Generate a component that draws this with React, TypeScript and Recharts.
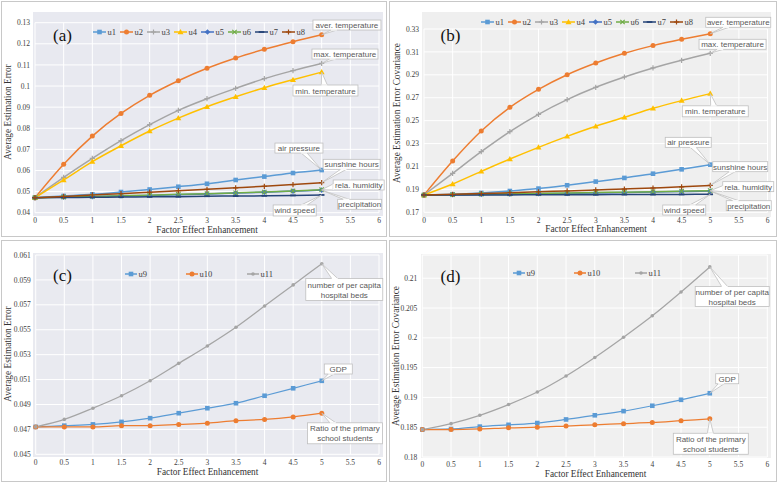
import React from "react";
import { LineChart, Line, XAxis, YAxis, CartesianGrid, LabelList } from "recharts";

const FACTOR = [0, 0.5, 1, 1.5, 2, 2.5, 3, 3.5, 4, 4.5, 5];
const X_TICKS = [0, 0.5, 1, 1.5, 2, 2.5, 3, 3.5, 4, 4.5, 5, 5.5, 6];

// (a) average estimation error, meteorological factors
const A_U1 = [0.0471, 0.0479, 0.0487, 0.0498, 0.051, 0.0523, 0.0537, 0.0555, 0.0571, 0.0588, 0.0602];
const A_U2 = [0.0471, 0.063, 0.0763, 0.087, 0.0956, 0.1025, 0.1084, 0.1133, 0.1174, 0.121, 0.1243];
const A_U3 = [0.0471, 0.0567, 0.0657, 0.0741, 0.0817, 0.0885, 0.094, 0.0989, 0.1035, 0.1073, 0.1107];
const A_U4 = [0.0471, 0.0555, 0.0642, 0.0717, 0.0787, 0.0848, 0.0902, 0.0949, 0.0992, 0.103, 0.1066];
const A_U5 = [0.0471, 0.0473, 0.0476, 0.0479, 0.0482, 0.0485, 0.0489, 0.0493, 0.0497, 0.0502, 0.0507];
const A_U6 = [0.0471, 0.0474, 0.0477, 0.048, 0.0483, 0.0487, 0.049, 0.0494, 0.0498, 0.0503, 0.0509];
const A_U7 = [0.0471, 0.0472, 0.0473, 0.0474, 0.0475, 0.0476, 0.0478, 0.0479, 0.048, 0.0482, 0.0484];
const A_U8 = [0.0471, 0.0477, 0.0484, 0.049, 0.0497, 0.0504, 0.0511, 0.0518, 0.0525, 0.0533, 0.0542];
const A_TICKS = [0.04, 0.05, 0.06, 0.07, 0.08, 0.09, 0.1, 0.11, 0.12, 0.13];

// (b) average estimation error covariance, meteorological factors
const B_U1 = [0.1851, 0.1857, 0.1869, 0.1886, 0.1907, 0.1936, 0.1968, 0.2, 0.2037, 0.2075, 0.2116];
const B_U2 = [0.1851, 0.2148, 0.241, 0.2616, 0.2773, 0.2901, 0.3003, 0.3088, 0.3155, 0.321, 0.3259];
const B_U3 = [0.1851, 0.204, 0.2229, 0.2404, 0.2555, 0.2683, 0.2791, 0.2881, 0.296, 0.3027, 0.3088];
const B_U4 = [0.1851, 0.1947, 0.2057, 0.2165, 0.2267, 0.2363, 0.2451, 0.2529, 0.2608, 0.2675, 0.2736];
const B_U5 = [0.1851, 0.1853, 0.1856, 0.1859, 0.1862, 0.1865, 0.1869, 0.1873, 0.1877, 0.1881, 0.1886];
const B_U6 = [0.1851, 0.1854, 0.1858, 0.1861, 0.1864, 0.1868, 0.1872, 0.1876, 0.188, 0.1884, 0.1889];
const B_U7 = [0.1851, 0.1851, 0.1852, 0.1852, 0.1853, 0.1853, 0.1854, 0.1855, 0.1855, 0.1856, 0.1857];
const B_U8 = [0.1851, 0.1857, 0.1864, 0.1871, 0.1879, 0.1887, 0.1895, 0.1903, 0.1912, 0.1922, 0.1935];
const B_TICKS = [0.17, 0.19, 0.21, 0.23, 0.25, 0.27, 0.29, 0.31, 0.33];

// (c) average estimation error, socio-economic factors
const C_U9 = [0.0472, 0.0473, 0.0474, 0.0476, 0.0479, 0.0483, 0.0487, 0.0491, 0.0497, 0.0503, 0.0509];
const C_U10 = [0.0472, 0.0472, 0.0472, 0.0473, 0.0473, 0.0474, 0.0475, 0.0477, 0.0478, 0.048, 0.0483];
const C_U11 = [0.0472, 0.0478, 0.0487, 0.0497, 0.0509, 0.0523, 0.0537, 0.0552, 0.0569, 0.0586, 0.0603];
const C_TICKS = [0.045, 0.047, 0.049, 0.051, 0.053, 0.055, 0.057, 0.059, 0.061];

// (d) average estimation error covariance, socio-economic factors
const D_U9 = [0.1846, 0.1847, 0.1851, 0.1854, 0.1857, 0.1863, 0.187, 0.1877, 0.1886, 0.1896, 0.1907];
const D_U10 = [0.1846, 0.1846, 0.1847, 0.1849, 0.185, 0.1852, 0.1854, 0.1856, 0.1858, 0.1861, 0.1864];
const D_U11 = [0.1846, 0.1856, 0.187, 0.1888, 0.1909, 0.1936, 0.1967, 0.2001, 0.2037, 0.2077, 0.2119];
const D_TICKS = [0.18, 0.185, 0.19, 0.195, 0.2, 0.205, 0.21];

const NAMES: Record<string, string[]> = {
  u1: ["air pressure"],
  u2: ["aver. temperature"],
  u3: ["max. temperature"],
  u4: ["min. temperature"],
  u5: ["precipitation"],
  u6: ["rela. humidity"],
  u7: ["wind speed"],
  u8: ["sunshine hours"],
  u9: ["GDP"],
  u10: ["Ratio of the primary", "school students"],
  u11: ["number of per capita", "hospital beds"],
};

const SERIF = '"Liberation Serif", "Times New Roman", serif';
const SANS = '"Liberation Sans", Arial, sans-serif';

type Shape = "square" | "circle" | "triangle" | "diamond" | "plus" | "cross" | "dash" | "dot";
type Series = { key: string; color: string; shape: Shape };
type Callout = { dx: number; dy: number; w: number; h: number };

const METEO: Series[] = [
  { key: "u1", color: "#5B9BD5", shape: "square" },
  { key: "u2", color: "#ED7D31", shape: "circle" },
  { key: "u3", color: "#A5A5A5", shape: "plus" },
  { key: "u4", color: "#FFC000", shape: "triangle" },
  { key: "u5", color: "#4472C4", shape: "diamond" },
  { key: "u6", color: "#70AD47", shape: "cross" },
  { key: "u7", color: "#264478", shape: "dash" },
  { key: "u8", color: "#9E480E", shape: "plus" },
];
const SOCIO: Series[] = [
  { key: "u9", color: "#5B9BD5", shape: "square" },
  { key: "u10", color: "#ED7D31", shape: "circle" },
  { key: "u11", color: "#A5A5A5", shape: "dot" },
];

const rows = (cols: Record<string, number[]>) =>
  FACTOR.map((f, i) => {
    const r: Record<string, number> = { f };
    Object.keys(cols).forEach(k => (r[k] = cols[k][i]));
    return r;
  });

function Marker({ shape, x, y, color }: { shape: Shape; x: number; y: number; color: string }) {
  switch (shape) {
    case "square":
      return <rect x={x - 2.3} y={y - 2.3} width={4.6} height={4.6} fill={color} />;
    case "circle":
      return <circle cx={x} cy={y} r={2.5} fill={color} />;
    case "dot":
      return <circle cx={x} cy={y} r={1.8} fill={color} />;
    case "triangle":
      return <path d={`M${x} ${y - 3}L${x + 3} ${y + 2.2}L${x - 3} ${y + 2.2}Z`} fill={color} />;
    case "diamond":
      return <path d={`M${x} ${y - 2.8}L${x + 2.8} ${y}L${x} ${y + 2.8}L${x - 2.8} ${y}Z`} fill={color} />;
    case "plus":
      return <path d={`M${x - 2.6} ${y}H${x + 2.6}M${x} ${y - 2.6}V${y + 2.6}`} stroke={color} strokeWidth={1.2} />;
    case "cross":
      return (
        <path d={`M${x - 2.2} ${y - 2.2}L${x + 2.2} ${y + 2.2}M${x + 2.2} ${y - 2.2}L${x - 2.2} ${y + 2.2}`}
          stroke={color} strokeWidth={1.2} />
      );
    default:
      return <path d={`M${x - 2.8} ${y}H${x + 2.8}`} stroke={color} strokeWidth={1.8} />;
  }
}

const clamp = (v: number, lo: number, hi: number) => Math.max(lo, Math.min(hi, v));

// Excel-style data callout: white box with a wedge pointing at the last point
function CalloutBox({ tx, ty, c, lines }: { tx: number; ty: number; c: Callout; lines: string[] }) {
  const cx = tx + c.dx, cy = ty + c.dy, hw = c.w / 2, hh = c.h / 2;
  const ddx = tx - cx, ddy = ty - cy;
  let b1: number[], b2: number[];
  if (Math.abs(ddx) / hw > Math.abs(ddy) / hh) {
    const ex = cx + Math.sign(ddx) * hw;
    const ey = clamp(cy + (ddy * hw) / Math.abs(ddx), cy - hh + 3, cy + hh - 3);
    b1 = [ex, ey - 3]; b2 = [ex, ey + 3];
  } else {
    const ey = cy + Math.sign(ddy) * hh;
    const ex = clamp(cx + (ddx * hh) / Math.abs(ddy), cx - hw + 3, cx + hw - 3);
    b1 = [ex - 3, ey]; b2 = [ex + 3, ey];
  }
  const stroke = "#bfbfbf";
  return (
    <g>
      <path d={`M${b1[0]} ${b1[1]}L${tx} ${ty}L${b2[0]} ${b2[1]}Z`} fill="#fff" stroke={stroke} strokeWidth={0.8} />
      <rect x={cx - hw} y={cy - hh} width={c.w} height={c.h} fill="#fff" stroke={stroke} strokeWidth={0.8} />
      <line x1={b1[0]} y1={b1[1]} x2={b2[0]} y2={b2[1]} stroke="#fff" strokeWidth={1.2} />
      <text x={cx} textAnchor="middle" fontFamily={SANS} fontSize={8} fill="#595959">
        {lines.map((l, i) => (
          <tspan key={i} x={cx} y={cy + 3 - ((lines.length - 1) * 10) / 2 + i * 10}>{l}</tspan>
        ))}
      </text>
    </g>
  );
}

type Rect = { x: number; y: number; w: number; h: number };
type PanelCfg = {
  tag: string;
  data: Record<string, number>[];
  series: Series[];
  lineWidth: number;
  domain: [number, number];
  ticks: number[];
  box: Rect;
  plot: { x0: number; x1: number; y0: number; y1: number };
  frame: Rect;
  bg: Rect;
  bgColor: string;
  legend: { x: number; y: number; pitch: number; sample: number };
  tagPos: [number, number];
  yTitle: string;
  yTitlePos: [number, number];
  xTitlePos: [number, number];
  callouts: Record<string, Callout>;
};

const PANELS: PanelCfg[] = [
  {
    tag: "(a)",
    data: rows({ u1: A_U1, u2: A_U2, u3: A_U3, u4: A_U4, u5: A_U5, u6: A_U6, u7: A_U7, u8: A_U8 }),
    series: METEO, lineWidth: 1.5, domain: [0.04, 0.13], ticks: A_TICKS,
    box: { x: 0, y: 0, w: 389, h: 239 },
    plot: { x0: 35, x1: 379, y0: 22.7, y1: 212.7 },
    frame: { x: 1, y: 1, w: 386, h: 236 },
    bg: { x: 33, y: 12, w: 350, h: 204 }, bgColor: "#e8e9f0",
    legend: { x: 93, y: 32.3, pitch: 27, sample: 13 },
    tagPos: [62.5, 35],
    yTitle: "Average Estimation Error", yTitlePos: [8.5, 112], xTitlePos: [207, 230.5],
    callouts: {
      u2: { dx: 25.3, dy: -9.7, w: 68, h: 10 },
      u3: { dx: 23.3, dy: -9.4, w: 66, h: 10 },
      u4: { dx: 3.8, dy: 18.4, w: 65, h: 11 },
      u1: { dx: -22.7, dy: -22, w: 48, h: 10 },
      u8: { dx: 30, dy: -18.4, w: 57, h: 10 },
      u6: { dx: 37, dy: -4.7, w: 51, h: 10 },
      u5: { dx: 38, dy: 14.2, w: 44, h: 10 },
      u7: { dx: -27, dy: 15.5, w: 43, h: 11 },
    },
  },
  {
    tag: "(b)",
    data: rows({ u1: B_U1, u2: B_U2, u3: B_U3, u4: B_U4, u5: B_U5, u6: B_U6, u7: B_U7, u8: B_U8 }),
    series: METEO, lineWidth: 1.5, domain: [0.17, 0.33], ticks: B_TICKS,
    box: { x: 389, y: 0, w: 389, h: 239 },
    plot: { x0: 424, x1: 767.5, y0: 29, y1: 212.3 },
    frame: { x: 389, y: 1, w: 388, h: 236 },
    bg: { x: 422, y: 12, w: 349, h: 205 }, bgColor: "#efefef",
    legend: { x: 481, y: 22.3, pitch: 27, sample: 13 },
    tagPos: [450.5, 34.5],
    yTitle: "Average Estimation Error Covariance", yTitlePos: [398, 112.5], xTitlePos: [596, 230],
    callouts: {
      u2: { dx: 28, dy: -11.4, w: 65, h: 10 },
      u3: { dx: 22.3, dy: -9, w: 67, h: 10 },
      u4: { dx: 5, dy: 17.7, w: 66, h: 11 },
      u1: { dx: -22, dy: -22.3, w: 46, h: 10 },
      u8: { dx: 30, dy: -18.7, w: 55, h: 10 },
      u6: { dx: 38, dy: -4, w: 51, h: 10 },
      u5: { dx: 38.5, dy: 14.7, w: 45, h: 10 },
      u7: { dx: -26, dy: 15.7, w: 43, h: 10 },
    },
  },
  {
    tag: "(c)",
    data: rows({ u9: C_U9, u10: C_U10, u11: C_U11 }),
    series: SOCIO, lineWidth: 1.25, domain: [0.045, 0.061], ticks: C_TICKS,
    box: { x: 0, y: 240, w: 389, h: 243 },
    plot: { x0: 35.7, x1: 379, y0: 255, y1: 454.3 },
    frame: { x: 1, y: 240, w: 386, h: 242 },
    bg: { x: 33, y: 253, w: 350, h: 204 }, bgColor: "#e9eaf0",
    legend: { x: 125, y: 273.7, pitch: 61, sample: 12 },
    tagPos: [62.5, 275],
    yTitle: "Average Estimation Error", yTitlePos: [8.5, 354], xTitlePos: [207.5, 473.3],
    callouts: {
      u11: { dx: 22.5, dy: 25.8, w: 77, h: 22 },
      u9: { dx: 16.5, dy: -11.8, w: 28, h: 10 },
      u10: { dx: 23.2, dy: 20.1, w: 75, h: 21 },
    },
  },
  {
    tag: "(d)",
    data: rows({ u9: D_U9, u10: D_U10, u11: D_U11 }),
    series: SOCIO, lineWidth: 1.25, domain: [0.18, 0.2139], ticks: D_TICKS,
    box: { x: 389, y: 240, w: 389, h: 243 },
    plot: { x0: 422.3, x1: 767.3, y0: 255, y1: 457 },
    frame: { x: 389, y: 240, w: 388, h: 242 },
    bg: { x: 421, y: 254, w: 350, h: 204 }, bgColor: "#f0f0f0",
    legend: { x: 513, y: 273.3, pitch: 61, sample: 12 },
    tagPos: [450.5, 276],
    yTitle: "Average Estimation Error Covariance", yTitlePos: [396.5, 356], xTitlePos: [595.5, 475],
    callouts: {
      u11: { dx: 22.4, dy: 29.6, w: 74, h: 20 },
      u9: { dx: 17.4, dy: -14.5, w: 23, h: 10 },
      u10: { dx: 1, dy: 24.9, w: 75, h: 21 },
    },
  },
];

const TICK = { fontSize: 7.5, fill: "#404040", fontFamily: SERIF };
const abs = (r: Rect): React.CSSProperties => ({ position: "absolute", left: r.x, top: r.y, width: r.w, height: r.h });
const centered = (x: number, y: number, extra: React.CSSProperties = {}): React.CSSProperties => ({
  position: "absolute", left: x, top: y, transform: "translate(-50%, -50%)", whiteSpace: "nowrap", lineHeight: 1, ...extra,
});

function Panel({ cfg }: { cfg: PanelCfg }) {
  const { box, plot } = cfg;
  const last = FACTOR.length - 1;
  return (
    <>
      <div style={{ ...abs(cfg.frame), border: "1.5px solid #c8c8c8", boxSizing: "border-box" }} />
      <div style={{ ...abs(cfg.bg), background: cfg.bgColor }} />
      <div style={{ position: "absolute", left: box.x, top: box.y }}>
        <LineChart
          width={box.w}
          height={box.h}
          data={cfg.data}
          margin={{ top: plot.y0 - box.y, right: box.x + box.w - plot.x1, bottom: 0, left: 0 }}
        >
          <CartesianGrid stroke="#ffffff" strokeWidth={1} />
          <XAxis type="number" dataKey="f" domain={[0, 6]} ticks={X_TICKS} interval={0}
            height={box.y + box.h - plot.y1} axisLine={false} tickLine={false} tickSize={0} tickMargin={5} tick={TICK} />
          <YAxis type="number" domain={cfg.domain} ticks={cfg.ticks} interval={0}
            width={plot.x0 - box.x} axisLine={false} tickLine={false} tickSize={0} tickMargin={5} tick={TICK} />
          {cfg.series.map(s => {
            const c = cfg.callouts[s.key];
            const lastVal = cfg.data[last][s.key];
            return (
              <Line key={s.key} dataKey={s.key} type="monotone" stroke={s.color} strokeWidth={cfg.lineWidth}
                isAnimationActive={false} activeDot={false}
                dot={(p: any) => (
                  <g key={`${s.key}-${p.index}`}>
                    <Marker shape={s.shape} x={p.cx} y={p.cy} color={s.color} />
                  </g>
                )}
              >
                {c && (
                  <LabelList dataKey={s.key} content={(p: any) => {
                    const isLast = p.index !== undefined ? p.index === last : p.value === lastVal;
                    if (!isLast) return null;
                    const tx = p.viewBox?.x ?? p.x, ty = p.viewBox?.y ?? p.y;
                    return <CalloutBox tx={tx} ty={ty} c={c} lines={NAMES[s.key]} />;
                  }} />
                )}
              </Line>
            );
          })}
        </LineChart>
      </div>
      {cfg.series.map((s, i) => (
        <div key={s.key} style={{
          position: "absolute", left: cfg.legend.x + i * cfg.legend.pitch, top: cfg.legend.y - 5,
          height: 10, display: "flex", alignItems: "center",
        }}>
          <svg width={cfg.legend.sample} height={10}>
            <line x1={0} y1={5} x2={cfg.legend.sample} y2={5} stroke={s.color} strokeWidth={1.5} />
            <Marker shape={s.shape} x={cfg.legend.sample / 2} y={5} color={s.color} />
          </svg>
          <span style={{ fontFamily: SERIF, fontSize: 8.5, color: "#404040", marginLeft: 1.5, lineHeight: "10px" }}>
            {s.key}
          </span>
        </div>
      ))}
      <div style={centered(cfg.tagPos[0], cfg.tagPos[1], { fontFamily: SERIF, fontSize: 17, color: "#111" })}>{cfg.tag}</div>
      <div style={centered(cfg.yTitlePos[0], cfg.yTitlePos[1], {
        fontFamily: SERIF, fontSize: 9.3, color: "#333", transform: "translate(-50%, -50%) rotate(-90deg)",
      })}>{cfg.yTitle}</div>
      <div style={centered(cfg.xTitlePos[0], cfg.xTitlePos[1], { fontFamily: SERIF, fontSize: 9.3, color: "#333" })}>
        Factor Effect Enhancement
      </div>
    </>
  );
}

export default function App() {
  return (
    <div style={{ position: "absolute", left: 0, top: 0, width: 778, height: 483, background: "#fff", overflow: "hidden" }}>
      {PANELS.map(p => <Panel key={p.tag} cfg={p} />)}
    </div>
  );
}
